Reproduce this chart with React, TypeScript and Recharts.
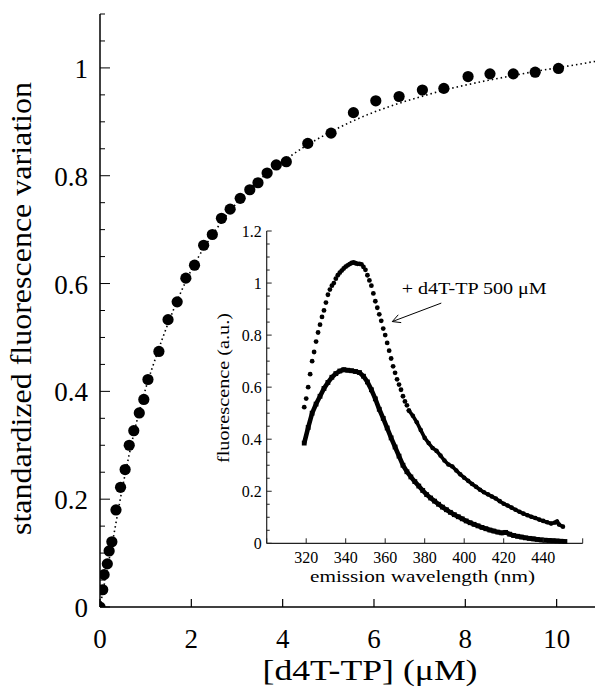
import { ComposedChart, Line, Scatter, XAxis, YAxis, ReferenceLine } from "recharts";

// main titration: [d4T-TP] (uM) vs standardized fluorescence variation
const mainConc = [0, 0.06, 0.09, 0.16, 0.2, 0.26, 0.35, 0.45, 0.55, 0.64, 0.74, 0.86, 0.96, 1.05, 1.29, 1.49, 1.69, 1.88, 2.07, 2.27, 2.46, 2.66, 2.85, 3.07, 3.28, 3.46, 3.66, 3.86, 4.08, 4.55, 5.06, 5.55, 6.04, 6.55, 7.06, 7.53, 8.06, 8.54, 9.05, 9.53, 10.04];
const mainSignal = [0, 0.032, 0.06, 0.08, 0.104, 0.121, 0.18, 0.222, 0.255, 0.3, 0.327, 0.36, 0.385, 0.422, 0.474, 0.533, 0.566, 0.61, 0.634, 0.671, 0.691, 0.721, 0.738, 0.758, 0.774, 0.787, 0.805, 0.82, 0.826, 0.86, 0.879, 0.917, 0.939, 0.947, 0.959, 0.962, 0.984, 0.989, 0.989, 0.992, 0.999];

// dotted fit curve
const fitConc = [0, 0.1, 0.25, 0.5, 0.75, 1, 1.25, 1.5, 2, 2.5, 3, 3.5, 4, 4.5, 5, 5.5, 6, 6.5, 7, 7.5, 8, 8.5, 9, 9.5, 10, 10.84];
const fitSignal = [0, 0.045, 0.11, 0.225, 0.325, 0.405, 0.47, 0.528, 0.625, 0.695, 0.75, 0.793, 0.826, 0.855, 0.879, 0.9, 0.918, 0.933, 0.946, 0.958, 0.968, 0.977, 0.985, 0.993, 1.0, 1.012];

const mainXTicks = [0, 2, 4, 6, 8, 10];
const mainYTicks = [0, 0.05, 0.1, 0.15, 0.2, 0.25, 0.3, 0.35, 0.4, 0.45, 0.5, 0.55, 0.6, 0.65, 0.7, 0.75, 0.8, 0.85, 0.9, 0.95, 1, 1.05, 1.1];
const mainYLabels = [0, 0.2, 0.4, 0.6, 0.8, 1];

// inset: emission spectra, + d4T-TP 500 uM (dots)
const upperSpectrum: [number, number][] = [
  [319, 0.523], [320, 0.556], [321, 0.6], [322, 0.65], [323, 0.7], [324, 0.735], [325, 0.775], [326, 0.81],
  [327, 0.84], [328, 0.87], [329, 0.895], [330, 0.925], [331, 0.955], [332, 0.975], [333, 0.99], [334, 1.0],
  [335, 1.017], [336, 1.03], [337, 1.04], [338, 1.048], [339, 1.056], [340, 1.063], [341, 1.068], [342, 1.073],
  [343, 1.077], [344, 1.079], [345, 1.076], [346, 1.074], [347, 1.074], [348, 1.072], [349, 1.062], [350, 1.051],
  [351, 1.03], [352, 1.01], [353, 0.99], [354, 0.96], [355, 0.93], [356, 0.905], [357, 0.88], [358, 0.855],
  [359, 0.825], [360, 0.8], [361, 0.77], [362, 0.74], [363, 0.71], [364, 0.68], [365, 0.655], [366, 0.63],
  [367, 0.61], [368, 0.59], [369, 0.565], [370, 0.545], [371, 0.53], [372, 0.51],
];
const upperTail: [number, number][] = [
  [372, 0.51], [374, 0.49], [376, 0.465], [378, 0.435], [380, 0.405], [382, 0.385], [384, 0.366], [386, 0.355],
  [388, 0.337], [390, 0.318], [392, 0.303], [394, 0.295], [396, 0.28], [398, 0.265], [400, 0.252], [402, 0.24],
  [404, 0.228], [406, 0.217], [408, 0.206], [410, 0.196], [412, 0.188], [414, 0.18], [416, 0.172], [418, 0.162],
  [420, 0.152], [422, 0.145], [424, 0.137], [426, 0.129], [428, 0.121], [430, 0.114], [432, 0.108], [434, 0.102],
  [436, 0.097], [438, 0.091], [440, 0.086], [442, 0.081], [444, 0.076], [446, 0.08], [447, 0.084], [448, 0.072],
  [450, 0.064],
];
// without d4T-TP (squares)
const lowerSpectrum: [number, number][] = [
  [319, 0.385], [321, 0.445], [323, 0.5], [325, 0.535], [327, 0.565], [329, 0.595], [331, 0.618], [333, 0.638],
  [335, 0.652], [337, 0.662], [339, 0.667], [341, 0.665], [343, 0.663], [345, 0.66], [347, 0.656], [349, 0.642],
  [351, 0.62], [353, 0.59], [355, 0.555], [357, 0.515], [359, 0.48], [361, 0.443], [363, 0.405], [365, 0.37],
  [367, 0.335], [369, 0.3], [371, 0.275], [373, 0.255], [375, 0.237], [377, 0.22], [379, 0.203], [381, 0.187],
  [383, 0.174], [385, 0.162], [387, 0.15], [389, 0.139], [391, 0.129], [393, 0.119], [395, 0.11], [397, 0.102],
  [399, 0.094], [401, 0.086], [403, 0.079], [405, 0.073], [407, 0.067], [409, 0.061], [411, 0.056], [413, 0.051],
  [415, 0.047], [417, 0.043], [419, 0.04], [421, 0.042], [423, 0.035], [425, 0.03], [427, 0.027], [429, 0.024],
  [431, 0.021], [433, 0.019], [435, 0.017], [437, 0.015], [439, 0.013], [441, 0.012], [443, 0.011], [445, 0.01],
  [447, 0.009], [449, 0.008], [451, 0.007],
];

const insetXTicks = [300, 320, 340, 360, 380, 400, 420, 440, 460];
const insetXLabels = [320, 340, 360, 380, 400, 420, 440];
const insetYTicks = [0, 0.05, 0.1, 0.15, 0.2, 0.25, 0.3, 0.35, 0.4, 0.45, 0.5, 0.55, 0.6, 0.65, 0.7, 0.75, 0.8, 0.85, 0.9, 0.95, 1, 1.05, 1.1, 1.15, 1.2];
const insetYLabels = [0, 0.2, 0.4, 0.6, 0.8, 1, 1.2];

const SERIF = "'Liberation Serif', 'Times New Roman', serif";

const has = (list: number[], v: number) => list.some((l) => Math.abs(l - v) < 1e-6);

const mainPoints = mainConc.map((x, i) => ({ x, y: mainSignal[i] }));
const fitRows = fitConc.map((x, i) => ({ x, y: fitSignal[i] }));
const toRows = (arr: [number, number][]) => arr.map(([nm, v]) => ({ nm, v }));

function MainBottomTick(p: any) {
  const { x, y, payload } = p;
  return (
    <g>
      <line x1={x} x2={x} y1={y} y2={y - 8} stroke="#000" strokeWidth={1.2} />
      <text x={x} y={y + 41} textAnchor="middle" fontFamily={SERIF} fontSize={27} fill="#000">
        {payload.value}
      </text>
    </g>
  );
}

function MainTopTick(p: any) {
  const { x, y } = p;
  return <line x1={x} x2={x} y1={y} y2={y + 8} stroke="#000" strokeWidth={1.2} />;
}

function MainLeftTick(p: any) {
  const { x, y, payload } = p;
  const major = has(mainYLabels, payload.value);
  return (
    <g>
      <line x1={x} x2={x + (major ? 10 : 5)} y1={y} y2={y} stroke="#000" strokeWidth={1} />
      {major && (
        <text x={x - 12} y={y + 10} textAnchor="end" fontFamily={SERIF} fontSize={27} fill="#000">
          {payload.value}
        </text>
      )}
    </g>
  );
}

function InsetBottomTick(p: any) {
  const { x, y, payload } = p;
  return (
    <g>
      <line x1={x} x2={x} y1={y} y2={y - 5} stroke="#222" strokeWidth={1} />
      {has(insetXLabels, payload.value) && (
        <text x={x} y={y + 20} textAnchor="middle" fontFamily={SERIF} fontSize={16} fill="#000">
          {payload.value}
        </text>
      )}
    </g>
  );
}

function InsetTopTick(p: any) {
  const { x, y } = p;
  return <line x1={x} x2={x} y1={y} y2={y + 5} stroke="#222" strokeWidth={1} />;
}

function InsetLeftTick(p: any) {
  const { x, y, payload } = p;
  const major = has(insetYLabels, payload.value);
  return (
    <g>
      <line x1={x} x2={x + (major ? 5 : 3)} y1={y} y2={y} stroke="#222" strokeWidth={1} />
      {major && (
        <text x={x - 5} y={y + 5.5} textAnchor="end" fontFamily={SERIF} fontSize={16} fill="#000">
          {payload.value}
        </text>
      )}
    </g>
  );
}

function InsetRightTick(p: any) {
  const { x, y, payload } = p;
  const major = has(insetYLabels, payload.value);
  return <line x1={x} x2={x - (major ? 5 : 3)} y1={y} y2={y} stroke="#222" strokeWidth={1} />;
}

function MainChart() {
  return (
    <ComposedChart width={595} height={690} margin={{ top: 14, right: 0, bottom: 0, left: 0 }}>
      <XAxis
        xAxisId="b"
        type="number"
        dataKey="x"
        domain={[0, 10.84]}
        ticks={mainXTicks}
        interval={0}
        height={83}
        allowDataOverflow
        axisLine={{ stroke: "#000", strokeWidth: 1.5 }}
        tickLine={false}
        tickSize={0}
        tickMargin={0}
        tick={MainBottomTick}
      />
      <XAxis
        xAxisId="t"
        orientation="top"
        type="number"
        dataKey="x"
        domain={[0, 10.84]}
        ticks={mainXTicks}
        interval={0}
        height={0}
        allowDataOverflow
        axisLine={{ stroke: "#000", strokeWidth: 1.5 }}
        tickLine={false}
        tickSize={0}
        tickMargin={0}
        tick={MainTopTick}
      />
      <YAxis
        yAxisId="l"
        type="number"
        dataKey="y"
        domain={[0, 1.1]}
        ticks={mainYTicks}
        interval={0}
        width={100}
        allowDataOverflow
        axisLine={{ stroke: "#000", strokeWidth: 1.5 }}
        tickLine={false}
        tickSize={0}
        tickMargin={0}
        tick={MainLeftTick}
      />
      <Line
        xAxisId="b"
        yAxisId="l"
        data={fitRows}
        dataKey="y"
        type="monotone"
        stroke="#000"
        strokeWidth={1.6}
        strokeDasharray="1.5 3"
        dot={false}
        isAnimationActive={false}
      />
      <Scatter
        xAxisId="b"
        yAxisId="l"
        data={mainPoints}
        dataKey="y"
        isAnimationActive={false}
        shape={(p: any) => <circle cx={p.cx} cy={p.cy} r={5.6} fill="#000" />}
      />
    </ComposedChart>
  );
}

function InsetChart() {
  return (
    <ComposedChart width={395} height={370} margin={{ top: 11, right: 12.3, bottom: 0, left: 0 }}>
      <XAxis
        xAxisId="b"
        type="number"
        dataKey="nm"
        domain={[300, 460]}
        ticks={insetXTicks}
        interval={0}
        height={46.7}
        axisLine={{ stroke: "#222", strokeWidth: 1.2 }}
        tickLine={false}
        tickSize={0}
        tickMargin={0}
        tick={InsetBottomTick}
      />
      <XAxis
        xAxisId="t"
        orientation="top"
        type="number"
        dataKey="nm"
        domain={[300, 460]}
        ticks={insetXTicks}
        interval={0}
        height={0}
        axisLine={{ stroke: "#222", strokeWidth: 1.2 }}
        tickLine={false}
        tickSize={0}
        tickMargin={0}
        tick={InsetTopTick}
      />
      <YAxis
        yAxisId="l"
        type="number"
        dataKey="v"
        domain={[0, 1.2]}
        ticks={insetYTicks}
        interval={0}
        width={66.7}
        axisLine={{ stroke: "#222", strokeWidth: 1.2 }}
        tickLine={false}
        tickSize={0}
        tickMargin={0}
        tick={InsetLeftTick}
      />
      <YAxis
        yAxisId="r"
        orientation="right"
        type="number"
        dataKey="v"
        domain={[0, 1.2]}
        ticks={insetYTicks}
        interval={0}
        width={0}
        axisLine={{ stroke: "#222", strokeWidth: 1.2 }}
        tickLine={false}
        tickSize={0}
        tickMargin={0}
        tick={InsetRightTick}
      />
      <Line
        xAxisId="b"
        yAxisId="l"
        data={toRows(lowerSpectrum)}
        dataKey="v"
        type="linear"
        stroke="#000"
        strokeWidth={4.6}
        isAnimationActive={false}
        dot={(p: any) => <rect key={p.index} x={p.cx - 2.4} y={p.cy - 2.4} width={4.8} height={4.8} fill="#000" />}
      />
      <Line
        xAxisId="b"
        yAxisId="l"
        data={toRows(upperTail)}
        dataKey="v"
        type="linear"
        stroke="#000"
        strokeWidth={3.6}
        isAnimationActive={false}
        dot={(p: any) => <circle key={p.index} cx={p.cx} cy={p.cy} r={2.3} fill="#000" />}
      />
      <Scatter
        xAxisId="b"
        yAxisId="l"
        data={toRows(upperSpectrum)}
        dataKey="v"
        isAnimationActive={false}
        shape={(p: any) => <circle cx={p.cx} cy={p.cy} r={2.4} fill="#000" />}
      />
      <ReferenceLine xAxisId="b" yAxisId="l" segment={[{ x: 388.4, y: 0.923 }, { x: 363.6, y: 0.852 }]} stroke="#000" strokeWidth={1} />
      <ReferenceLine xAxisId="b" yAxisId="l" segment={[{ x: 363.6, y: 0.852 }, { x: 368.1, y: 0.848 }]} stroke="#000" strokeWidth={1} />
      <ReferenceLine xAxisId="b" yAxisId="l" segment={[{ x: 363.6, y: 0.852 }, { x: 366.6, y: 0.878 }]} stroke="#000" strokeWidth={1} />
    </ComposedChart>
  );
}

export default function App() {
  return (
    <div style={{ position: "absolute", left: 0, top: 0, width: 595, height: 690, background: "#fff", overflow: "hidden" }}>
      <MainChart />
      <div style={{ position: "absolute", left: 200, top: 220, width: 395, height: 370 }}>
        <InsetChart />
      </div>
      <svg width={595} height={690} style={{ position: "absolute", left: 0, top: 0, pointerEvents: "none" }}>
        <text
          transform="translate(31,308.5) rotate(-90)"
          textAnchor="middle"
          fontFamily={SERIF}
          fontSize={29}
          textLength={453}
          lengthAdjust="spacingAndGlyphs"
        >
          standardized fluorescence variation
        </text>
        <text x={370} y={680} textAnchor="middle" fontFamily={SERIF} fontSize={29} textLength={215} lengthAdjust="spacingAndGlyphs">
          [d4T-TP] (μM)
        </text>
        <text
          transform="translate(229,388) rotate(-90)"
          textAnchor="middle"
          fontFamily={SERIF}
          fontSize={16}
          textLength={150}
          lengthAdjust="spacingAndGlyphs"
        >
          fluorescence (a.u.)
        </text>
        <text x={422.5} y={582} textAnchor="middle" fontFamily={SERIF} fontSize={17} textLength={225} lengthAdjust="spacingAndGlyphs">
          emission wavelength (nm)
        </text>
        <text x={401.7} y={294} fontFamily={SERIF} fontSize={17} textLength={145} lengthAdjust="spacingAndGlyphs">
          + d4T-TP 500 μM
        </text>
      </svg>
    </div>
  );
}
